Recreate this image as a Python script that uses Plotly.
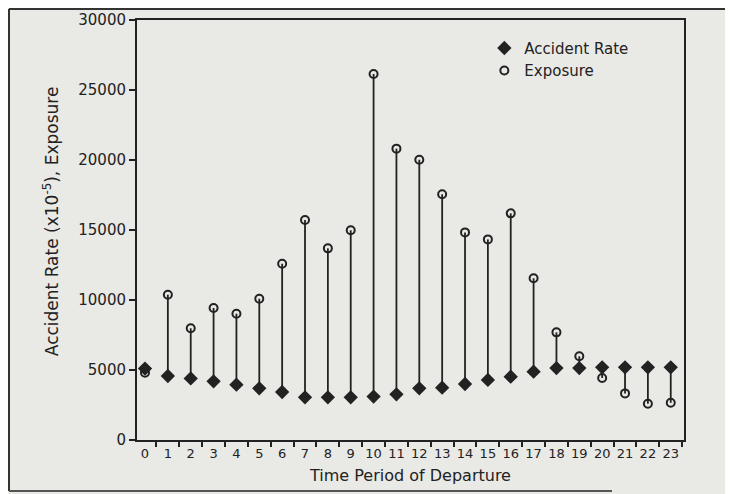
import plotly.graph_objects as go

periods = ["0", "1", "2", "3", "4", "5", "6", "7", "8", "9", "10", "11",
           "12", "13", "14", "15", "16", "17", "18", "19", "20", "21", "22", "23"]
accident_rate = [5100, 4570, 4400, 4190, 3950, 3690, 3430, 3050, 3050, 3050, 3100, 3260,
                 3690, 3740, 4000, 4290, 4520, 4880, 5140, 5140, 5190, 5190, 5190, 5190]
exposure = [4800, 10380, 7980, 9430, 9020, 10090, 12590, 15710, 13690, 14980, 26140, 20810,
            20020, 17550, 14830, 14330, 16190, 11550, 7690, 5980, 4430, 3330, 2590, 2660]
y_ticks = [0, 5000, 10000, 15000, 20000, 25000, 30000]

INK = "#222222"
BG = "#e9e9e6"
FONT = "DejaVu Sans"

# plot area in figure pixels: x 129..676, y 12..432
PW, PH = 547, 420
L, T = 129, 12

seg_x, seg_y = [], []
for p, a, e in zip(periods, accident_rate, exposure):
    seg_x += [p, p, None]
    seg_y += [a, e, None]

fig = go.Figure()
fig.add_trace(go.Scatter(x=seg_x, y=seg_y, mode="lines", line=dict(color=INK, width=1.8),
                         showlegend=False, hoverinfo="skip"))
fig.add_trace(go.Scatter(x=periods, y=exposure, mode="markers", name="Exposure",
                         legendrank=2,
                         marker=dict(symbol="circle-open", size=8, color=INK, line=dict(width=2, color=INK))))
fig.add_trace(go.Scatter(x=periods, y=accident_rate, mode="markers", name="Accident Rate",
                         legendrank=1,
                         marker=dict(symbol="diamond", size=11, color=INK)))

fig.update_layout(
    width=733, height=494,
    margin=dict(l=L, r=733 - L - PW, t=T, b=494 - T - PH),
    paper_bgcolor=BG, plot_bgcolor=BG,
    font=dict(family=FONT, color=INK, size=14),
    legend=dict(x=0.635, y=0.972, xanchor="left", yanchor="top", bgcolor="rgba(0,0,0,0)",
                font=dict(size=15, family=FONT, color=INK), tracegroupgap=0, itemwidth=30),
    annotations=[
        dict(text="Accident Rate (x10<sup>-5</sup>), Exposure", textangle=-90,
             xref="paper", yref="paper", x=(43 - L) / PW, y=0.521,
             xanchor="center", yanchor="middle", showarrow=False,
             font=dict(size=17, family=FONT, color=INK)),
    ],
    shapes=[
        dict(type="line", xref="paper", yref="paper", x0=(1 - L) / PW, x1=1.2,
             y0=1 + (T - 1) / PH, y1=1 + (T - 1) / PH, line=dict(color="#333", width=2)),
        dict(type="line", xref="paper", yref="paper", x0=(1 - L) / PW, x1=(1 - L) / PW,
             y0=1 + (T - 1) / PH, y1=-51 / PH, line=dict(color="#333", width=2)),
        dict(type="line", xref="paper", yref="paper", x0=(1 - L) / PW, x1=475 / PW,
             y0=-51 / PH, y1=-51 / PH, line=dict(color="#555", width=2)),
    ],
)
fig.update_xaxes(
    type="category", range=[-0.35, 23.58], automargin=False,
    tickson="boundaries", ticks="outside", ticklen=5, tickwidth=2, tickcolor=INK,
    tickangle=0,
    showline=True, linecolor=INK, linewidth=2, mirror=True, showgrid=False, zeroline=False,
    tickfont=dict(size=13, family=FONT, color=INK),
    title=dict(text="Time Period of Departure", font=dict(size=16, family=FONT, color=INK), standoff=10),
)
fig.update_yaxes(
    range=[0, 30000], tickvals=y_ticks, ticktext=[str(v) for v in y_ticks], automargin=False,
    ticks="outside", ticklen=6, tickwidth=2, tickcolor=INK,
    showline=True, linecolor=INK, linewidth=2, mirror=True, showgrid=False, zeroline=False,
    tickfont=dict(size=15, family=FONT, color=INK),
)

fig.write_html("out.html")
